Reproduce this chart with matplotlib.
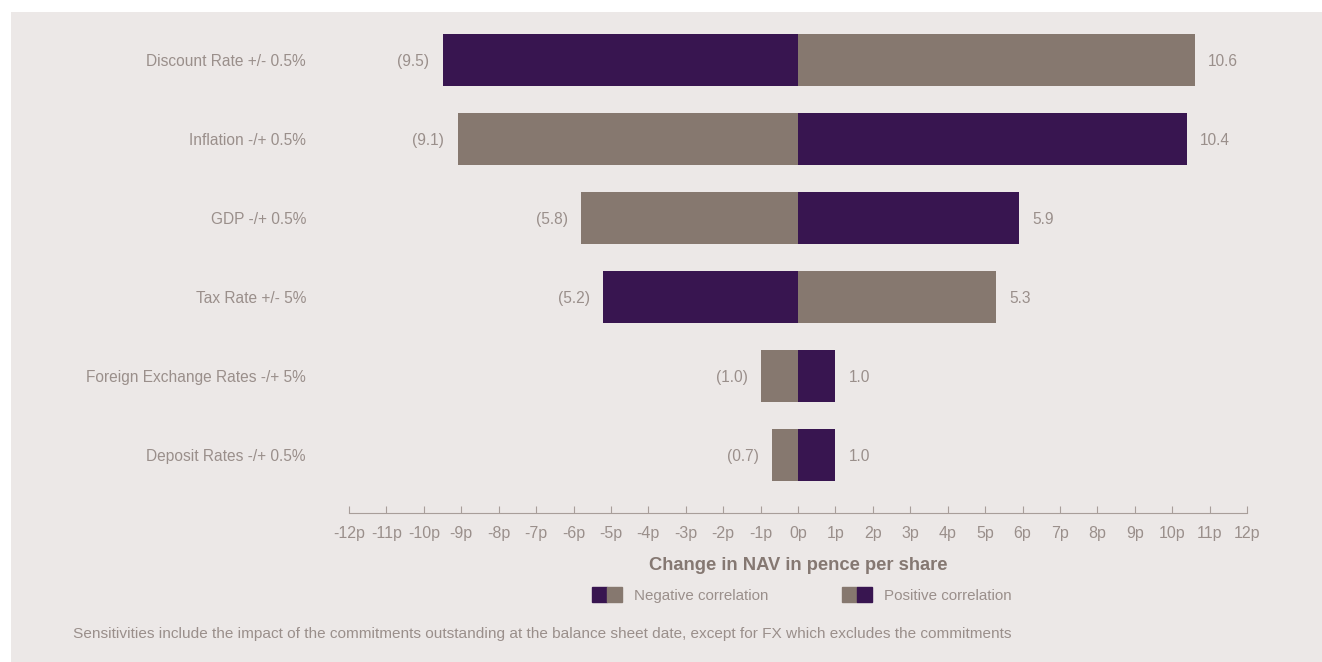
import matplotlib.pyplot as plt
from matplotlib.patches import Rectangle

# sensitivity data (pence per share)
categories = ["Discount Rate +/- 0.5%", "Inflation -/+ 0.5%", "GDP -/+ 0.5%",
              "Tax Rate +/- 5%", "Foreign Exchange Rates -/+ 5%", "Deposit Rates -/+ 0.5%"]
downside = [-9.5, -9.1, -5.8, -5.2, -1.0, -0.7]
upside = [10.6, 10.4, 5.9, 5.3, 1.0, 1.0]
negative_corr = [True, False, False, True, False, False]
ticks = list(range(-12, 13))

PURPLE = "#381550"
TAUPE = "#86786f"
BG = "#ece8e7"
TXT = "#9a8f8b"

plt.rcParams["font.family"] = ["Liberation Sans", "DejaVu Sans"]

fig = plt.figure(figsize=(13.22, 6.62), dpi=100)
fig.patch.set_facecolor("white")
fig.patches.append(Rectangle((11 / 1322, 0), 1, 650 / 662, transform=fig.transFigure,
                             facecolor=BG, edgecolor="none", zorder=-10))

ax = fig.add_axes([349 / 1322, 0.225, 898 / 1322, 0.744])
ax.set_facecolor("none")

ys = range(len(categories))
for y, lo, hi, neg in zip(ys, downside, upside, negative_corr):
    lc, rc = (PURPLE, TAUPE) if neg else (TAUPE, PURPLE)
    ax.barh(y, lo, height=0.66, color=lc)
    ax.barh(y, hi, height=0.66, color=rc)
    ax.annotate("({:.1f})".format(-lo), (lo, y), xytext=(-9.5, -1), textcoords="offset points",
                ha="right", va="center", fontsize=11.2, color=TXT)
    ax.annotate("{:.1f}".format(hi), (hi, y), xytext=(9.5, -1), textcoords="offset points",
                ha="left", va="center", fontsize=11.2, color=TXT)

ax.set_xlim(-12, 12)
ax.set_ylim(5.734, -0.5)
ax.set_xticks(ticks)
ax.set_xticklabels(["{}p".format(t) for t in ticks])
ax.set_yticks(list(ys))
ax.set_yticklabels(categories)
ax.tick_params(axis="y", length=0, pad=31, labelsize=11.2, labelcolor=TXT)
ax.tick_params(axis="x", direction="in", length=5, color="#a89e9a", pad=9,
               labelsize=11.5, labelcolor=TXT)
for s in ["top", "right", "left"]:
    ax.spines[s].set_visible(False)
ax.spines["bottom"].set_color("#a89e9a")
ax.set_xlabel("Change in NAV in pence per share", fontsize=13.2, fontweight="bold",
              color="#857872", labelpad=11.5)

# legend drawn by hand: two-tone swatches
def swatch(x0, left, right, label):
    w, h = 15 / 1322, 15 / 662
    y0 = 1 - 602 / 662
    fig.patches.append(Rectangle((x0, y0), w, h, transform=fig.transFigure, color=left))
    fig.patches.append(Rectangle((x0 + w, y0), w, h, transform=fig.transFigure, color=right))
    fig.text(x0 + 42 / 1322, y0 + h / 2 - 0.002, label, ha="left", va="center",
             fontsize=10.9, color=TXT)

swatch(592 / 1322, PURPLE, TAUPE, "Negative correlation")
swatch(842 / 1322, TAUPE, PURPLE, "Positive correlation")

fig.text(73 / 1322, 1 - 634 / 662,
         "Sensitivities include the impact of the commitments outstanding at the balance sheet date, "
         "except for FX which excludes the commitments",
         ha="left", va="center", fontsize=11.1, color=TXT)

fig.savefig("out.png", dpi=100, facecolor=fig.get_facecolor())
